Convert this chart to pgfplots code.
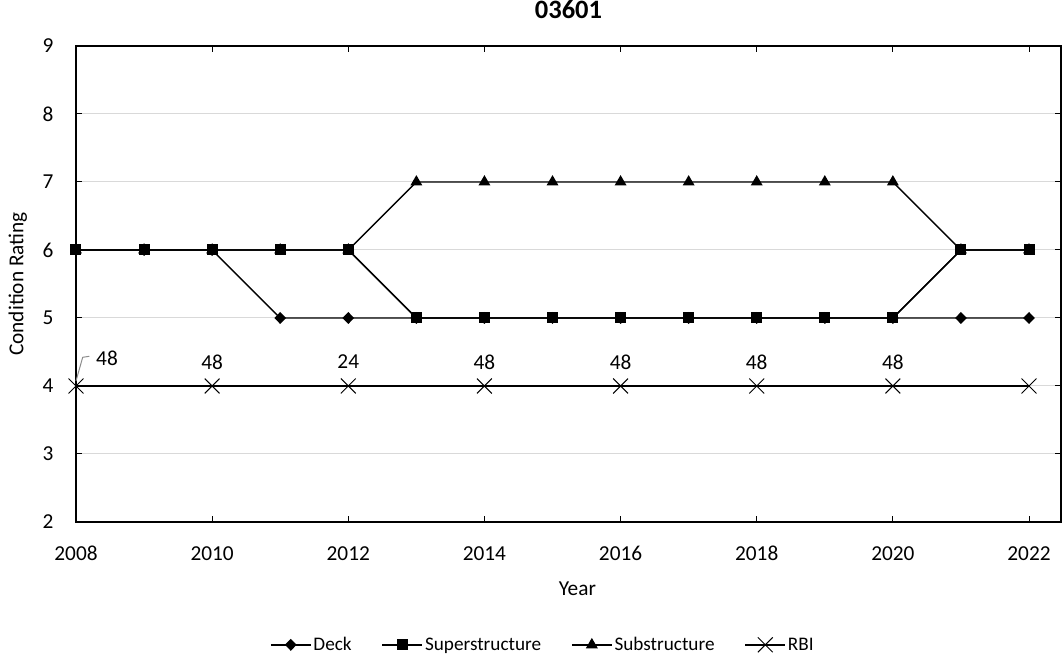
\documentclass[border=0pt]{standalone}
\usepackage{fontspec}
\setmainfont{Carlito}
\usepackage{pgfplots}
\usepackage{pgfplotstable}
\pgfplotsset{compat=1.18}

\pgfplotstableread{
year deck super sub
2008 6 6 6
2009 6 6 6
2010 6 6 6
2011 5 6 6
2012 5 6 6
2013 5 5 7
2014 5 5 7
2015 5 5 7
2016 5 5 7
2017 5 5 7
2018 5 5 7
2019 5 5 7
2020 5 5 7
2021 5 6 6
2022 5 6 6
}\ratings

\pgfplotstableread{
year rbi label
2008 4 {}
2010 4 48
2012 4 24
2014 4 48
2016 4 48
2018 4 48
2020 4 48
2022 4 {}
}\rbi

\begin{document}
\begin{tikzpicture}[x=1pt,y=1pt]
\path[use as bounding box] (-76,-138) rectangle (987,522);
\begin{axis}[
  at={(0,0)}, anchor=south west,
  scale only axis, width=985pt, height=476pt,
  xmin=2008, xmax=2022.47, ymin=2, ymax=9,
  xtick={2008,2010,...,2022}, ytick={2,3,...,9},
  /pgf/number format/1000 sep={},
  /pgf/number format/assume math mode=true,
  ymajorgrids, grid style={draw=black!15, line width=1pt},
  axis line style={black, line width=1.3pt},
  tick style={black, line width=1pt}, major tick length=6pt,
  tick label style={font=\fontsize{21.3}{24}\selectfont},
  xticklabel style={yshift=-21pt, text height=14pt, text depth=1pt},
  yticklabel style={xshift=-19pt},
  title={03601},
  title style={font=\fontsize{26.5}{30}\selectfont\bfseries, at={(axis description cs:0.5,1.063)}, anchor=center},
  xlabel={Year},
  xlabel style={font=\fontsize{21.3}{24}\selectfont, at={(axis description cs:0.509,-0.141)}, anchor=center},
  ylabel={Condition Rating},
  ylabel style={font=\fontsize{21.3}{24}\selectfont, at={(axis description cs:-0.059,0.5)}, anchor=center},
  clip=false,
  legend style={at={(axis description cs:0.474,-0.258)}, anchor=center, draw=none,
    font=\fontsize{19.2}{22}\selectfont, legend columns=4,
    /tikz/every even column/.append style={column sep=28pt}},
  legend image code/.code={\draw[mark repeat=2,mark phase=2] plot coordinates {(0pt,0pt) (20pt,0pt) (40pt,0pt)};},
]
\addplot[black, line width=1.4pt, mark=diamond*, mark size=5pt, mark options={solid, xscale=1.3}] table[x=year, y=deck] {\ratings};
\addlegendentry{Deck}
\addplot[black, line width=1.4pt, mark=square*, mark size=4.8pt, mark options={solid}] table[x=year, y=super] {\ratings};
\addlegendentry{Superstructure}
\addplot[black, line width=1.4pt, mark=triangle*, mark size=5.5pt, mark options={solid}] table[x=year, y=sub] {\ratings};
\addlegendentry{Substructure}
\addplot[black, line width=1.4pt, mark=x, mark size=10.5pt, mark options={solid, line width=1pt},
  nodes near coords, point meta=explicit symbolic,
  every node near coord/.append style={anchor=center, yshift=24pt, font=\fontsize{21.3}{24}\selectfont}]
  table[x=year, y=rbi, meta=label] {\rbi};
\addlegendentry{RBI}
\addplot[black, line width=1.4pt, mark=square*, mark size=4.8pt, mark options={solid}, forget plot] table[x=year, y=super] {\ratings};
\addplot[draw=none, mark=none, forget plot, nodes near coords={48},
  every node near coord/.append style={anchor=center, xshift=31pt, yshift=27.5pt, font=\fontsize{21.3}{24}\selectfont}]
  coordinates {(2008,4)};
\draw[black!45, line width=1pt] ([yshift=5pt]axis cs:2008,4) -- ([xshift=6.7pt,yshift=28.7pt]axis cs:2008,4) -- ([xshift=13.3pt,yshift=29.7pt]axis cs:2008,4);
\end{axis}
\end{tikzpicture}
\end{document}
